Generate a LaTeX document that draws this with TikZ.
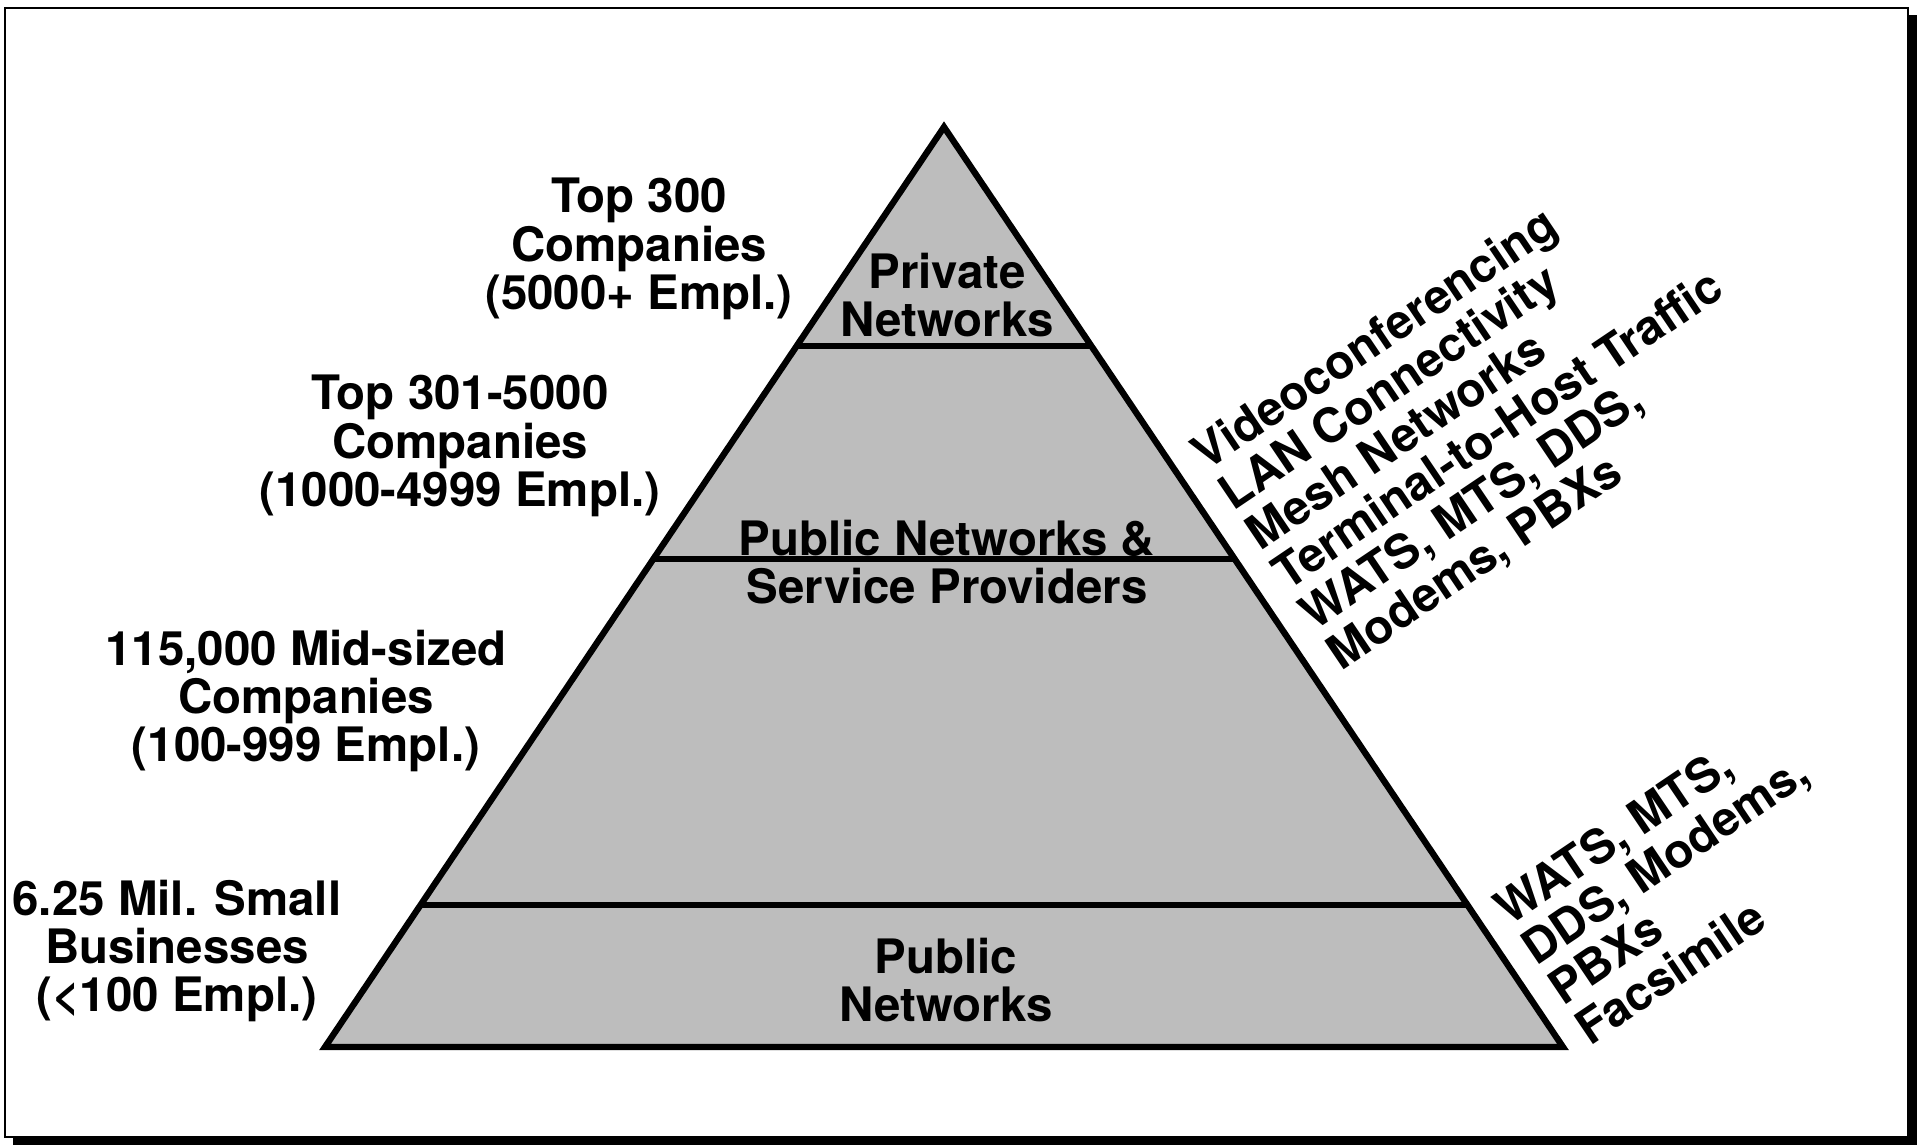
\documentclass[tikz,border=0pt]{standalone}
\usepackage{fontspec}
\setmainfont{TeX Gyre Heros}
\usetikzlibrary{calc}
\definecolor{pyrgray}{gray}{0.74}

\begin{document}
\begin{tikzpicture}[
  every node/.style={font=\fontsize{13.5}{13.7}\selectfont\bfseries, inner sep=0pt},
  tier/.style={draw=black, line width=1.8pt},
  seglabel/.style={align=center},
  grouplabel/.style={align=center},
  usage/.style={align=left, rotate=34, anchor=north west},
]
\useasboundingbox (0,0) rectangle (19.17,-11.45);

% Frame with drop shadow
\fill[black] (0.13,-0.15) rectangle (19.17,-11.45);
\draw[fill=white, line width=0.8pt] (0.05,-0.08) rectangle (19.08,-11.37);

% Pyramid
\coordinate (apex) at (9.44,-1.27);
\coordinate (bl) at (3.25,-10.47);
\coordinate (br) at (15.63,-10.47);
\draw[fill=pyrgray, line width=1.8pt] (apex) -- (bl) -- (br) -- cycle;

% Tier boundaries
\foreach \t in {0.238,0.4696,0.8457}
  \draw[tier] ($(apex)!\t!(bl)$) -- ($(apex)!\t!(br)$);

% Tier names
\node[seglabel] (private)  at (9.47,-2.95) {Private\\Networks};
\node[seglabel] (publicsp) at (9.47,-5.62) {Public Networks \&\\Service Providers};
\node[seglabel] (public)   at (9.46,-9.80) {Public\\Networks};

% Company groups
\node[grouplabel] (top300)   at (6.39,-2.49) {Top 300\\Companies\\(5000+ Empl.)};
\node[grouplabel] (top5000)  at (4.60,-4.46) {Top 301-5000\\Companies\\(1000-4999 Empl.)};
\node[grouplabel] (midsized) at (3.06,-7.01) {115,000 Mid-sized\\Companies\\(100-999 Empl.)};
\node[grouplabel] (small)    at (1.77,-9.51) {6.25 Mil. Small\\Businesses\\(<100 Empl.)};

% Services used
\node[usage] (upperuses) at (11.86,-4.42)
  {Videoconferencing\\LAN Connectivity\\Mesh Networks\\Terminal-to-Host Traffic\\WATS, MTS, DDS,\\Modems, PBXs};
\node[usage] (loweruses) at (14.89,-8.97)
  {WATS, MTS,\\DDS, Modems,\\PBXs\\Facsimile};

\end{tikzpicture}
\end{document}
